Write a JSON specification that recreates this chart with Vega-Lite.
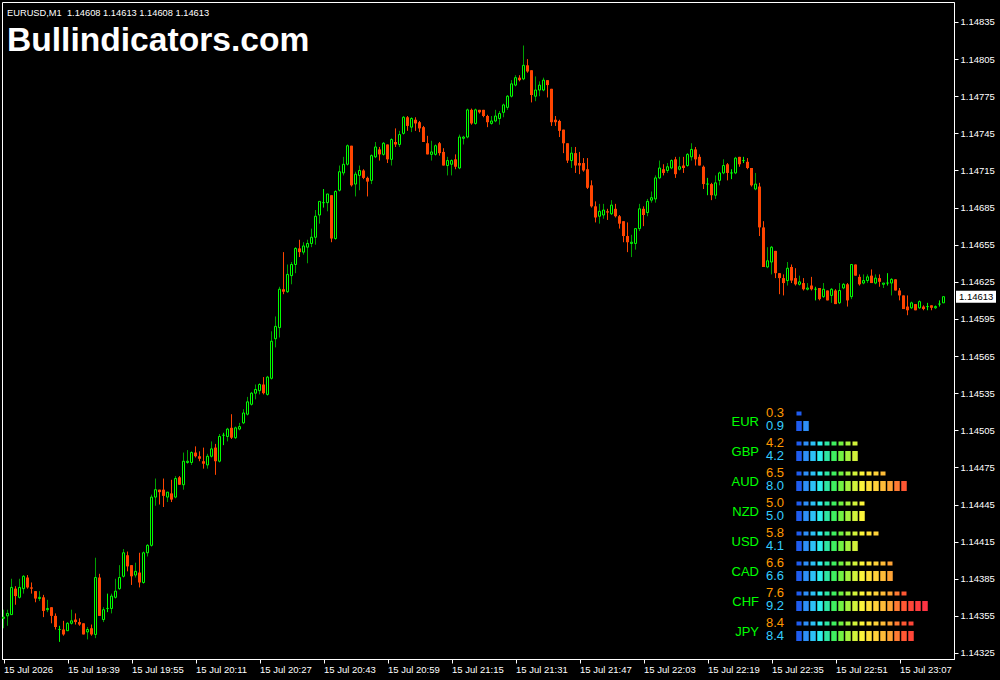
{
"$schema":"https://vega.github.io/schema/vega-lite/v6.json",
"width":952,"height":657,"autosize":"none",
"padding":{"left":2,"top":2,"right":46,"bottom":21},
"background":"#000000",
"config":{"view":{"stroke":"#ffffff","strokeWidth":1},"axis":{"grid":false,"domainColor":"#ffffff","tickColor":"#ffffff","labelColor":"#ffffff","labelFont":"Liberation Sans","labelFontSize":9.5,"tickSize":4,"labelOverlap":false,"labelFlush":false,"labelBound":false}},
"title":{"text":"EURUSD,M1\u00a0 1.14608 1.14613 1.14608 1.14613","subtitle":"Bullindicators.com","anchor":"start","frame":"group","orient":"top","offset":-56,"dx":5,"color":"#ffffff","font":"Liberation Sans","fontSize":9.3,"fontWeight":"normal","subtitleColor":"#ffffff","subtitleFont":"Liberation Sans","subtitleFontSize":33.6,"subtitleFontWeight":"bold","subtitlePadding":6},
"datasets":{
"candles":[
{"t":"2026-07-15T19:23","o":1.14353,"h":1.14360,"l":1.14345,"c":1.14354},
{"t":"2026-07-15T19:24","o":1.14355,"h":1.14360,"l":1.14347,"c":1.14357},
{"t":"2026-07-15T19:25","o":1.14356,"h":1.14385,"l":1.14356,"c":1.14378},
{"t":"2026-07-15T19:26","o":1.14377,"h":1.14379,"l":1.14364,"c":1.14371},
{"t":"2026-07-15T19:27","o":1.14370,"h":1.14385,"l":1.14369,"c":1.14378},
{"t":"2026-07-15T19:28","o":1.14377,"h":1.14388,"l":1.14373,"c":1.14387},
{"t":"2026-07-15T19:29","o":1.14386,"h":1.14388,"l":1.14377,"c":1.14378},
{"t":"2026-07-15T19:30","o":1.14378,"h":1.14382,"l":1.14373,"c":1.14377},
{"t":"2026-07-15T19:31","o":1.14375,"h":1.14375,"l":1.14366,"c":1.14369},
{"t":"2026-07-15T19:32","o":1.14369,"h":1.14375,"l":1.14367,"c":1.14370},
{"t":"2026-07-15T19:33","o":1.14370,"h":1.14372,"l":1.14354,"c":1.14359},
{"t":"2026-07-15T19:34","o":1.14360,"h":1.14368,"l":1.14358,"c":1.14361},
{"t":"2026-07-15T19:35","o":1.14362,"h":1.14362,"l":1.14349,"c":1.14355},
{"t":"2026-07-15T19:36","o":1.14355,"h":1.14357,"l":1.14344,"c":1.14346},
{"t":"2026-07-15T19:37","o":1.14344,"h":1.14347,"l":1.14334,"c":1.14344},
{"t":"2026-07-15T19:38","o":1.14344,"h":1.14351,"l":1.14339,"c":1.14340},
{"t":"2026-07-15T19:39","o":1.14343,"h":1.14350,"l":1.14343,"c":1.14349},
{"t":"2026-07-15T19:40","o":1.14349,"h":1.14360,"l":1.14348,"c":1.14351},
{"t":"2026-07-15T19:41","o":1.14352,"h":1.14357,"l":1.14348,"c":1.14350},
{"t":"2026-07-15T19:42","o":1.14350,"h":1.14353,"l":1.14347,"c":1.14348},
{"t":"2026-07-15T19:43","o":1.14349,"h":1.14349,"l":1.14340,"c":1.14340},
{"t":"2026-07-15T19:44","o":1.14342,"h":1.14346,"l":1.14336,"c":1.14344},
{"t":"2026-07-15T19:45","o":1.14345,"h":1.14348,"l":1.14339,"c":1.14340},
{"t":"2026-07-15T19:46","o":1.14340,"h":1.14402,"l":1.14337,"c":1.14386},
{"t":"2026-07-15T19:47","o":1.14386,"h":1.14389,"l":1.14355,"c":1.14355},
{"t":"2026-07-15T19:48","o":1.14352,"h":1.14362,"l":1.14350,"c":1.14360},
{"t":"2026-07-15T19:49","o":1.14361,"h":1.14373,"l":1.14358,"c":1.14361},
{"t":"2026-07-15T19:50","o":1.14361,"h":1.14373,"l":1.14357,"c":1.14371},
{"t":"2026-07-15T19:51","o":1.14370,"h":1.14385,"l":1.14369,"c":1.14375},
{"t":"2026-07-15T19:52","o":1.14377,"h":1.14396,"l":1.14376,"c":1.14386},
{"t":"2026-07-15T19:53","o":1.14387,"h":1.14409,"l":1.14386,"c":1.14406},
{"t":"2026-07-15T19:54","o":1.14404,"h":1.14407,"l":1.14391,"c":1.14395},
{"t":"2026-07-15T19:55","o":1.14396,"h":1.14396,"l":1.14380,"c":1.14387},
{"t":"2026-07-15T19:56","o":1.14388,"h":1.14398,"l":1.14386,"c":1.14391},
{"t":"2026-07-15T19:57","o":1.14390,"h":1.14406,"l":1.14378,"c":1.14382},
{"t":"2026-07-15T19:58","o":1.14382,"h":1.14407,"l":1.14381,"c":1.14406},
{"t":"2026-07-15T19:59","o":1.14406,"h":1.14413,"l":1.14403,"c":1.14412},
{"t":"2026-07-15T20:00","o":1.14412,"h":1.14453,"l":1.14411,"c":1.14451},
{"t":"2026-07-15T20:01","o":1.14451,"h":1.14466,"l":1.14444,"c":1.14457},
{"t":"2026-07-15T20:02","o":1.14457,"h":1.14457,"l":1.14445,"c":1.14455},
{"t":"2026-07-15T20:03","o":1.14457,"h":1.14466,"l":1.14443,"c":1.14452},
{"t":"2026-07-15T20:04","o":1.14451,"h":1.14455,"l":1.14447,"c":1.14455},
{"t":"2026-07-15T20:05","o":1.14454,"h":1.14465,"l":1.14447,"c":1.14449},
{"t":"2026-07-15T20:06","o":1.14451,"h":1.14468,"l":1.14450,"c":1.14466},
{"t":"2026-07-15T20:07","o":1.14467,"h":1.14468,"l":1.14461,"c":1.14461},
{"t":"2026-07-15T20:08","o":1.14461,"h":1.14487,"l":1.14457,"c":1.14480},
{"t":"2026-07-15T20:09","o":1.14479,"h":1.14489,"l":1.14478,"c":1.14480},
{"t":"2026-07-15T20:10","o":1.14479,"h":1.14488,"l":1.14477,"c":1.14487},
{"t":"2026-07-15T20:11","o":1.14487,"h":1.14492,"l":1.14483,"c":1.14484},
{"t":"2026-07-15T20:12","o":1.14484,"h":1.14488,"l":1.14480,"c":1.14482},
{"t":"2026-07-15T20:13","o":1.14480,"h":1.14491,"l":1.14474,"c":1.14478},
{"t":"2026-07-15T20:14","o":1.14477,"h":1.14486,"l":1.14474,"c":1.14484},
{"t":"2026-07-15T20:15","o":1.14484,"h":1.14496,"l":1.14483,"c":1.14490},
{"t":"2026-07-15T20:16","o":1.14491,"h":1.14494,"l":1.14469,"c":1.14480},
{"t":"2026-07-15T20:17","o":1.14480,"h":1.14502,"l":1.14479,"c":1.14500},
{"t":"2026-07-15T20:18","o":1.14501,"h":1.14503,"l":1.14493,"c":1.14501},
{"t":"2026-07-15T20:19","o":1.14500,"h":1.14507,"l":1.14496,"c":1.14506},
{"t":"2026-07-15T20:20","o":1.14507,"h":1.14518,"l":1.14498,"c":1.14499},
{"t":"2026-07-15T20:21","o":1.14499,"h":1.14508,"l":1.14498,"c":1.14507},
{"t":"2026-07-15T20:22","o":1.14506,"h":1.14511,"l":1.14505,"c":1.14508},
{"t":"2026-07-15T20:23","o":1.14511,"h":1.14522,"l":1.14510,"c":1.14519},
{"t":"2026-07-15T20:24","o":1.14518,"h":1.14532,"l":1.14517,"c":1.14528},
{"t":"2026-07-15T20:25","o":1.14526,"h":1.14536,"l":1.14525,"c":1.14535},
{"t":"2026-07-15T20:26","o":1.14535,"h":1.14542,"l":1.14530,"c":1.14538},
{"t":"2026-07-15T20:27","o":1.14537,"h":1.14543,"l":1.14534,"c":1.14542},
{"t":"2026-07-15T20:28","o":1.14542,"h":1.14548,"l":1.14534,"c":1.14535},
{"t":"2026-07-15T20:29","o":1.14534,"h":1.14549,"l":1.14533,"c":1.14548},
{"t":"2026-07-15T20:30","o":1.14547,"h":1.14585,"l":1.14546,"c":1.14577},
{"t":"2026-07-15T20:31","o":1.14579,"h":1.14597,"l":1.14572,"c":1.14589},
{"t":"2026-07-15T20:32","o":1.14588,"h":1.14621,"l":1.14580,"c":1.14619},
{"t":"2026-07-15T20:33","o":1.14619,"h":1.14649,"l":1.14615,"c":1.14617},
{"t":"2026-07-15T20:34","o":1.14617,"h":1.14639,"l":1.14616,"c":1.14631},
{"t":"2026-07-15T20:35","o":1.14630,"h":1.14641,"l":1.14623,"c":1.14639},
{"t":"2026-07-15T20:36","o":1.14639,"h":1.14653,"l":1.14632,"c":1.14652},
{"t":"2026-07-15T20:37","o":1.14652,"h":1.14659,"l":1.14645,"c":1.14649},
{"t":"2026-07-15T20:38","o":1.14649,"h":1.14657,"l":1.14647,"c":1.14654},
{"t":"2026-07-15T20:39","o":1.14653,"h":1.14659,"l":1.14640,"c":1.14656},
{"t":"2026-07-15T20:40","o":1.14656,"h":1.14668,"l":1.14653,"c":1.14661},
{"t":"2026-07-15T20:41","o":1.14661,"h":1.14683,"l":1.14655,"c":1.14678},
{"t":"2026-07-15T20:42","o":1.14679,"h":1.14690,"l":1.14672,"c":1.14690},
{"t":"2026-07-15T20:43","o":1.14689,"h":1.14700,"l":1.14685,"c":1.14689},
{"t":"2026-07-15T20:44","o":1.14689,"h":1.14696,"l":1.14682,"c":1.14696},
{"t":"2026-07-15T20:45","o":1.14695,"h":1.14695,"l":1.14657,"c":1.14660},
{"t":"2026-07-15T20:46","o":1.14660,"h":1.14699,"l":1.14659,"c":1.14698},
{"t":"2026-07-15T20:47","o":1.14699,"h":1.14719,"l":1.14698,"c":1.14714},
{"t":"2026-07-15T20:48","o":1.14713,"h":1.14726,"l":1.14711,"c":1.14720},
{"t":"2026-07-15T20:49","o":1.14720,"h":1.14736,"l":1.14719,"c":1.14735},
{"t":"2026-07-15T20:50","o":1.14735,"h":1.14735,"l":1.14702,"c":1.14703},
{"t":"2026-07-15T20:51","o":1.14704,"h":1.14714,"l":1.14694,"c":1.14712},
{"t":"2026-07-15T20:52","o":1.14711,"h":1.14719,"l":1.14699,"c":1.14715},
{"t":"2026-07-15T20:53","o":1.14715,"h":1.14716,"l":1.14708,"c":1.14709},
{"t":"2026-07-15T20:54","o":1.14709,"h":1.14710,"l":1.14694,"c":1.14706},
{"t":"2026-07-15T20:55","o":1.14707,"h":1.14728,"l":1.14704,"c":1.14727},
{"t":"2026-07-15T20:56","o":1.14726,"h":1.14738,"l":1.14725,"c":1.14734},
{"t":"2026-07-15T20:57","o":1.14732,"h":1.14734,"l":1.14723,"c":1.14728},
{"t":"2026-07-15T20:58","o":1.14728,"h":1.14738,"l":1.14727,"c":1.14737},
{"t":"2026-07-15T20:59","o":1.14736,"h":1.14736,"l":1.14721,"c":1.14724},
{"t":"2026-07-15T21:00","o":1.14724,"h":1.14741,"l":1.14719,"c":1.14740},
{"t":"2026-07-15T21:01","o":1.14738,"h":1.14749,"l":1.14734,"c":1.14736},
{"t":"2026-07-15T21:02","o":1.14736,"h":1.14747,"l":1.14734,"c":1.14744},
{"t":"2026-07-15T21:03","o":1.14745,"h":1.14759,"l":1.14744,"c":1.14758},
{"t":"2026-07-15T21:04","o":1.14758,"h":1.14759,"l":1.14747,"c":1.14751},
{"t":"2026-07-15T21:05","o":1.14750,"h":1.14758,"l":1.14746,"c":1.14757},
{"t":"2026-07-15T21:06","o":1.14756,"h":1.14758,"l":1.14747,"c":1.14753},
{"t":"2026-07-15T21:07","o":1.14754,"h":1.14755,"l":1.14746,"c":1.14749},
{"t":"2026-07-15T21:08","o":1.14750,"h":1.14751,"l":1.14738,"c":1.14738},
{"t":"2026-07-15T21:09","o":1.14737,"h":1.14743,"l":1.14728,"c":1.14728},
{"t":"2026-07-15T21:10","o":1.14728,"h":1.14739,"l":1.14723,"c":1.14730},
{"t":"2026-07-15T21:11","o":1.14728,"h":1.14736,"l":1.14727,"c":1.14735},
{"t":"2026-07-15T21:12","o":1.14737,"h":1.14738,"l":1.14727,"c":1.14729},
{"t":"2026-07-15T21:13","o":1.14730,"h":1.14733,"l":1.14719,"c":1.14719},
{"t":"2026-07-15T21:14","o":1.14719,"h":1.14726,"l":1.14711,"c":1.14723},
{"t":"2026-07-15T21:15","o":1.14720,"h":1.14724,"l":1.14711,"c":1.14723},
{"t":"2026-07-15T21:16","o":1.14724,"h":1.14728,"l":1.14716,"c":1.14718},
{"t":"2026-07-15T21:17","o":1.14717,"h":1.14744,"l":1.14716,"c":1.14742},
{"t":"2026-07-15T21:18","o":1.14741,"h":1.14743,"l":1.14736,"c":1.14742},
{"t":"2026-07-15T21:19","o":1.14742,"h":1.14765,"l":1.14741,"c":1.14764},
{"t":"2026-07-15T21:20","o":1.14764,"h":1.14765,"l":1.14752,"c":1.14753},
{"t":"2026-07-15T21:21","o":1.14753,"h":1.14765,"l":1.14752,"c":1.14764},
{"t":"2026-07-15T21:22","o":1.14764,"h":1.14764,"l":1.14761,"c":1.14762},
{"t":"2026-07-15T21:23","o":1.14764,"h":1.14764,"l":1.14758,"c":1.14759},
{"t":"2026-07-15T21:24","o":1.14759,"h":1.14760,"l":1.14750,"c":1.14754},
{"t":"2026-07-15T21:25","o":1.14753,"h":1.14759,"l":1.14752,"c":1.14755},
{"t":"2026-07-15T21:26","o":1.14755,"h":1.14764,"l":1.14754,"c":1.14759},
{"t":"2026-07-15T21:27","o":1.14757,"h":1.14763,"l":1.14752,"c":1.14761},
{"t":"2026-07-15T21:28","o":1.14762,"h":1.14769,"l":1.14758,"c":1.14768},
{"t":"2026-07-15T21:29","o":1.14766,"h":1.14776,"l":1.14764,"c":1.14775},
{"t":"2026-07-15T21:30","o":1.14775,"h":1.14788,"l":1.14774,"c":1.14785},
{"t":"2026-07-15T21:31","o":1.14784,"h":1.14792,"l":1.14783,"c":1.14790},
{"t":"2026-07-15T21:32","o":1.14790,"h":1.14792,"l":1.14787,"c":1.14788},
{"t":"2026-07-15T21:33","o":1.14789,"h":1.14816,"l":1.14788,"c":1.14800},
{"t":"2026-07-15T21:34","o":1.14800,"h":1.14805,"l":1.14794,"c":1.14795},
{"t":"2026-07-15T21:35","o":1.14796,"h":1.14796,"l":1.14770,"c":1.14776},
{"t":"2026-07-15T21:36","o":1.14775,"h":1.14791,"l":1.14771,"c":1.14780},
{"t":"2026-07-15T21:37","o":1.14780,"h":1.14787,"l":1.14775,"c":1.14784},
{"t":"2026-07-15T21:38","o":1.14780,"h":1.14790,"l":1.14779,"c":1.14788},
{"t":"2026-07-15T21:39","o":1.14788,"h":1.14788,"l":1.14774,"c":1.14784},
{"t":"2026-07-15T21:40","o":1.14781,"h":1.14781,"l":1.14751,"c":1.14754},
{"t":"2026-07-15T21:41","o":1.14756,"h":1.14759,"l":1.14751,"c":1.14754},
{"t":"2026-07-15T21:42","o":1.14755,"h":1.14756,"l":1.14742,"c":1.14747},
{"t":"2026-07-15T21:43","o":1.14748,"h":1.14748,"l":1.14729,"c":1.14737},
{"t":"2026-07-15T21:44","o":1.14737,"h":1.14737,"l":1.14721,"c":1.14723},
{"t":"2026-07-15T21:45","o":1.14723,"h":1.14734,"l":1.14717,"c":1.14729},
{"t":"2026-07-15T21:46","o":1.14729,"h":1.14734,"l":1.14713,"c":1.14719},
{"t":"2026-07-15T21:47","o":1.14721,"h":1.14730,"l":1.14712,"c":1.14719},
{"t":"2026-07-15T21:48","o":1.14721,"h":1.14725,"l":1.14714,"c":1.14715},
{"t":"2026-07-15T21:49","o":1.14716,"h":1.14725,"l":1.14700,"c":1.14701},
{"t":"2026-07-15T21:50","o":1.14703,"h":1.14707,"l":1.14685,"c":1.14686},
{"t":"2026-07-15T21:51","o":1.14686,"h":1.14690,"l":1.14673,"c":1.14677},
{"t":"2026-07-15T21:52","o":1.14678,"h":1.14688,"l":1.14672,"c":1.14682},
{"t":"2026-07-15T21:53","o":1.14679,"h":1.14688,"l":1.14676,"c":1.14683},
{"t":"2026-07-15T21:54","o":1.14682,"h":1.14684,"l":1.14675,"c":1.14681},
{"t":"2026-07-15T21:55","o":1.14680,"h":1.14691,"l":1.14679,"c":1.14687},
{"t":"2026-07-15T21:56","o":1.14684,"h":1.14688,"l":1.14677,"c":1.14678},
{"t":"2026-07-15T21:57","o":1.14678,"h":1.14679,"l":1.14668,"c":1.14672},
{"t":"2026-07-15T21:58","o":1.14674,"h":1.14674,"l":1.14657,"c":1.14662},
{"t":"2026-07-15T21:59","o":1.14662,"h":1.14673,"l":1.14649,"c":1.14657},
{"t":"2026-07-15T22:00","o":1.14656,"h":1.14663,"l":1.14645,"c":1.14657},
{"t":"2026-07-15T22:01","o":1.14656,"h":1.14668,"l":1.14651,"c":1.14668},
{"t":"2026-07-15T22:02","o":1.14668,"h":1.14688,"l":1.14666,"c":1.14684},
{"t":"2026-07-15T22:03","o":1.14684,"h":1.14686,"l":1.14670,"c":1.14679},
{"t":"2026-07-15T22:04","o":1.14681,"h":1.14692,"l":1.14678,"c":1.14690},
{"t":"2026-07-15T22:05","o":1.14691,"h":1.14698,"l":1.14689,"c":1.14693},
{"t":"2026-07-15T22:06","o":1.14692,"h":1.14711,"l":1.14689,"c":1.14709},
{"t":"2026-07-15T22:07","o":1.14709,"h":1.14723,"l":1.14708,"c":1.14717},
{"t":"2026-07-15T22:08","o":1.14716,"h":1.14720,"l":1.14711,"c":1.14713},
{"t":"2026-07-15T22:09","o":1.14715,"h":1.14721,"l":1.14713,"c":1.14718},
{"t":"2026-07-15T22:10","o":1.14717,"h":1.14724,"l":1.14716,"c":1.14723},
{"t":"2026-07-15T22:11","o":1.14724,"h":1.14726,"l":1.14709,"c":1.14712},
{"t":"2026-07-15T22:12","o":1.14716,"h":1.14726,"l":1.14715,"c":1.14718},
{"t":"2026-07-15T22:13","o":1.14719,"h":1.14726,"l":1.14713,"c":1.14717},
{"t":"2026-07-15T22:14","o":1.14719,"h":1.14729,"l":1.14718,"c":1.14728},
{"t":"2026-07-15T22:15","o":1.14726,"h":1.14737,"l":1.14723,"c":1.14732},
{"t":"2026-07-15T22:16","o":1.14732,"h":1.14734,"l":1.14719,"c":1.14724},
{"t":"2026-07-15T22:17","o":1.14726,"h":1.14728,"l":1.14719,"c":1.14719},
{"t":"2026-07-15T22:18","o":1.14718,"h":1.14719,"l":1.14700,"c":1.14704},
{"t":"2026-07-15T22:19","o":1.14704,"h":1.14709,"l":1.14695,"c":1.14704},
{"t":"2026-07-15T22:20","o":1.14704,"h":1.14705,"l":1.14691,"c":1.14695},
{"t":"2026-07-15T22:21","o":1.14695,"h":1.14711,"l":1.14692,"c":1.14705},
{"t":"2026-07-15T22:22","o":1.14707,"h":1.14714,"l":1.14703,"c":1.14713},
{"t":"2026-07-15T22:23","o":1.14713,"h":1.14724,"l":1.14712,"c":1.14719},
{"t":"2026-07-15T22:24","o":1.14720,"h":1.14721,"l":1.14707,"c":1.14713},
{"t":"2026-07-15T22:25","o":1.14713,"h":1.14716,"l":1.14708,"c":1.14713},
{"t":"2026-07-15T22:26","o":1.14713,"h":1.14726,"l":1.14712,"c":1.14725},
{"t":"2026-07-15T22:27","o":1.14726,"h":1.14726,"l":1.14718,"c":1.14720},
{"t":"2026-07-15T22:28","o":1.14723,"h":1.14726,"l":1.14721,"c":1.14723},
{"t":"2026-07-15T22:29","o":1.14722,"h":1.14725,"l":1.14716,"c":1.14717},
{"t":"2026-07-15T22:30","o":1.14717,"h":1.14717,"l":1.14702,"c":1.14703},
{"t":"2026-07-15T22:31","o":1.14700,"h":1.14713,"l":1.14699,"c":1.14704},
{"t":"2026-07-15T22:32","o":1.14702,"h":1.14705,"l":1.14662,"c":1.14669},
{"t":"2026-07-15T22:33","o":1.14669,"h":1.14674,"l":1.14637,"c":1.14637},
{"t":"2026-07-15T22:34","o":1.14637,"h":1.14653,"l":1.14636,"c":1.14642},
{"t":"2026-07-15T22:35","o":1.14641,"h":1.14654,"l":1.14631,"c":1.14653},
{"t":"2026-07-15T22:36","o":1.14650,"h":1.14650,"l":1.14628,"c":1.14632},
{"t":"2026-07-15T22:37","o":1.14632,"h":1.14632,"l":1.14615,"c":1.14628},
{"t":"2026-07-15T22:38","o":1.14628,"h":1.14631,"l":1.14614,"c":1.14624},
{"t":"2026-07-15T22:39","o":1.14626,"h":1.14641,"l":1.14622,"c":1.14636},
{"t":"2026-07-15T22:40","o":1.14637,"h":1.14639,"l":1.14624,"c":1.14626},
{"t":"2026-07-15T22:41","o":1.14628,"h":1.14636,"l":1.14622,"c":1.14623},
{"t":"2026-07-15T22:42","o":1.14623,"h":1.14630,"l":1.14622,"c":1.14625},
{"t":"2026-07-15T22:43","o":1.14624,"h":1.14628,"l":1.14618,"c":1.14619},
{"t":"2026-07-15T22:44","o":1.14619,"h":1.14624,"l":1.14618,"c":1.14620},
{"t":"2026-07-15T22:45","o":1.14622,"h":1.14629,"l":1.14618,"c":1.14619},
{"t":"2026-07-15T22:46","o":1.14619,"h":1.14621,"l":1.14610,"c":1.14619},
{"t":"2026-07-15T22:47","o":1.14620,"h":1.14620,"l":1.14610,"c":1.14611},
{"t":"2026-07-15T22:48","o":1.14613,"h":1.14624,"l":1.14612,"c":1.14619},
{"t":"2026-07-15T22:49","o":1.14618,"h":1.14618,"l":1.14610,"c":1.14610},
{"t":"2026-07-15T22:50","o":1.14614,"h":1.14620,"l":1.14608,"c":1.14619},
{"t":"2026-07-15T22:51","o":1.14618,"h":1.14619,"l":1.14607,"c":1.14607},
{"t":"2026-07-15T22:52","o":1.14608,"h":1.14624,"l":1.14607,"c":1.14618},
{"t":"2026-07-15T22:53","o":1.14620,"h":1.14624,"l":1.14619,"c":1.14623},
{"t":"2026-07-15T22:54","o":1.14623,"h":1.14624,"l":1.14605,"c":1.14610},
{"t":"2026-07-15T22:55","o":1.14613,"h":1.14639,"l":1.14611,"c":1.14639},
{"t":"2026-07-15T22:56","o":1.14639,"h":1.14639,"l":1.14630,"c":1.14630},
{"t":"2026-07-15T22:57","o":1.14629,"h":1.14631,"l":1.14622,"c":1.14623},
{"t":"2026-07-15T22:58","o":1.14624,"h":1.14631,"l":1.14623,"c":1.14626},
{"t":"2026-07-15T22:59","o":1.14626,"h":1.14631,"l":1.14624,"c":1.14629},
{"t":"2026-07-15T23:00","o":1.14630,"h":1.14635,"l":1.14624,"c":1.14624},
{"t":"2026-07-15T23:01","o":1.14624,"h":1.14631,"l":1.14623,"c":1.14628},
{"t":"2026-07-15T23:02","o":1.14628,"h":1.14631,"l":1.14621,"c":1.14625},
{"t":"2026-07-15T23:03","o":1.14623,"h":1.14624,"l":1.14620,"c":1.14624},
{"t":"2026-07-15T23:04","o":1.14624,"h":1.14632,"l":1.14622,"c":1.14624},
{"t":"2026-07-15T23:05","o":1.14624,"h":1.14628,"l":1.14614,"c":1.14627},
{"t":"2026-07-15T23:06","o":1.14627,"h":1.14627,"l":1.14618,"c":1.14618},
{"t":"2026-07-15T23:07","o":1.14618,"h":1.14620,"l":1.14610,"c":1.14614},
{"t":"2026-07-15T23:08","o":1.14614,"h":1.14614,"l":1.14603,"c":1.14603},
{"t":"2026-07-15T23:09","o":1.14605,"h":1.14614,"l":1.14598,"c":1.14602},
{"t":"2026-07-15T23:10","o":1.14604,"h":1.14609,"l":1.14603,"c":1.14608},
{"t":"2026-07-15T23:11","o":1.14607,"h":1.14607,"l":1.14602,"c":1.14602},
{"t":"2026-07-15T23:12","o":1.14604,"h":1.14610,"l":1.14603,"c":1.14609},
{"t":"2026-07-15T23:13","o":1.14605,"h":1.14606,"l":1.14602,"c":1.14603},
{"t":"2026-07-15T23:14","o":1.14605,"h":1.14608,"l":1.14602,"c":1.14605},
{"t":"2026-07-15T23:15","o":1.14606,"h":1.14606,"l":1.14602,"c":1.14604},
{"t":"2026-07-15T23:16","o":1.14604,"h":1.14606,"l":1.14603,"c":1.14605},
{"t":"2026-07-15T23:17","o":1.14607,"h":1.14610,"l":1.14605,"c":1.14607},
{"t":"2026-07-15T23:18","o":1.14608,"h":1.14613,"l":1.14608,"c":1.14613}
],
"bid":[{"c":1.14613}],
"meter":[
{"cur":"EUR","a":0.3,"b":0.9},
{"cur":"GBP","a":4.2,"b":4.2},
{"cur":"AUD","a":6.5,"b":8.0},
{"cur":"NZD","a":5.0,"b":5.0},
{"cur":"USD","a":5.8,"b":4.1},
{"cur":"CAD","a":6.6,"b":6.6},
{"cur":"CHF","a":7.6,"b":9.2},
{"cur":"JPY","a":8.4,"b":8.4}
],
"segs":[
{"cur":"EUR","r":1,"k":1},
{"cur":"EUR","r":2,"k":1},{"cur":"EUR","r":2,"k":2},
{"cur":"GBP","r":1,"k":1},{"cur":"GBP","r":1,"k":2},{"cur":"GBP","r":1,"k":3},{"cur":"GBP","r":1,"k":4},{"cur":"GBP","r":1,"k":5},{"cur":"GBP","r":1,"k":6},{"cur":"GBP","r":1,"k":7},{"cur":"GBP","r":1,"k":8},{"cur":"GBP","r":1,"k":9},
{"cur":"GBP","r":2,"k":1},{"cur":"GBP","r":2,"k":2},{"cur":"GBP","r":2,"k":3},{"cur":"GBP","r":2,"k":4},{"cur":"GBP","r":2,"k":5},{"cur":"GBP","r":2,"k":6},{"cur":"GBP","r":2,"k":7},{"cur":"GBP","r":2,"k":8},{"cur":"GBP","r":2,"k":9},
{"cur":"AUD","r":1,"k":1},{"cur":"AUD","r":1,"k":2},{"cur":"AUD","r":1,"k":3},{"cur":"AUD","r":1,"k":4},{"cur":"AUD","r":1,"k":5},{"cur":"AUD","r":1,"k":6},{"cur":"AUD","r":1,"k":7},{"cur":"AUD","r":1,"k":8},{"cur":"AUD","r":1,"k":9},{"cur":"AUD","r":1,"k":10},{"cur":"AUD","r":1,"k":11},{"cur":"AUD","r":1,"k":12},{"cur":"AUD","r":1,"k":13},
{"cur":"AUD","r":2,"k":1},{"cur":"AUD","r":2,"k":2},{"cur":"AUD","r":2,"k":3},{"cur":"AUD","r":2,"k":4},{"cur":"AUD","r":2,"k":5},{"cur":"AUD","r":2,"k":6},{"cur":"AUD","r":2,"k":7},{"cur":"AUD","r":2,"k":8},{"cur":"AUD","r":2,"k":9},{"cur":"AUD","r":2,"k":10},{"cur":"AUD","r":2,"k":11},{"cur":"AUD","r":2,"k":12},{"cur":"AUD","r":2,"k":13},{"cur":"AUD","r":2,"k":14},{"cur":"AUD","r":2,"k":15},{"cur":"AUD","r":2,"k":16},
{"cur":"NZD","r":1,"k":1},{"cur":"NZD","r":1,"k":2},{"cur":"NZD","r":1,"k":3},{"cur":"NZD","r":1,"k":4},{"cur":"NZD","r":1,"k":5},{"cur":"NZD","r":1,"k":6},{"cur":"NZD","r":1,"k":7},{"cur":"NZD","r":1,"k":8},{"cur":"NZD","r":1,"k":9},{"cur":"NZD","r":1,"k":10},
{"cur":"NZD","r":2,"k":1},{"cur":"NZD","r":2,"k":2},{"cur":"NZD","r":2,"k":3},{"cur":"NZD","r":2,"k":4},{"cur":"NZD","r":2,"k":5},{"cur":"NZD","r":2,"k":6},{"cur":"NZD","r":2,"k":7},{"cur":"NZD","r":2,"k":8},{"cur":"NZD","r":2,"k":9},{"cur":"NZD","r":2,"k":10},
{"cur":"USD","r":1,"k":1},{"cur":"USD","r":1,"k":2},{"cur":"USD","r":1,"k":3},{"cur":"USD","r":1,"k":4},{"cur":"USD","r":1,"k":5},{"cur":"USD","r":1,"k":6},{"cur":"USD","r":1,"k":7},{"cur":"USD","r":1,"k":8},{"cur":"USD","r":1,"k":9},{"cur":"USD","r":1,"k":10},{"cur":"USD","r":1,"k":11},{"cur":"USD","r":1,"k":12},
{"cur":"USD","r":2,"k":1},{"cur":"USD","r":2,"k":2},{"cur":"USD","r":2,"k":3},{"cur":"USD","r":2,"k":4},{"cur":"USD","r":2,"k":5},{"cur":"USD","r":2,"k":6},{"cur":"USD","r":2,"k":7},{"cur":"USD","r":2,"k":8},{"cur":"USD","r":2,"k":9},
{"cur":"CAD","r":1,"k":1},{"cur":"CAD","r":1,"k":2},{"cur":"CAD","r":1,"k":3},{"cur":"CAD","r":1,"k":4},{"cur":"CAD","r":1,"k":5},{"cur":"CAD","r":1,"k":6},{"cur":"CAD","r":1,"k":7},{"cur":"CAD","r":1,"k":8},{"cur":"CAD","r":1,"k":9},{"cur":"CAD","r":1,"k":10},{"cur":"CAD","r":1,"k":11},{"cur":"CAD","r":1,"k":12},{"cur":"CAD","r":1,"k":13},{"cur":"CAD","r":1,"k":14},
{"cur":"CAD","r":2,"k":1},{"cur":"CAD","r":2,"k":2},{"cur":"CAD","r":2,"k":3},{"cur":"CAD","r":2,"k":4},{"cur":"CAD","r":2,"k":5},{"cur":"CAD","r":2,"k":6},{"cur":"CAD","r":2,"k":7},{"cur":"CAD","r":2,"k":8},{"cur":"CAD","r":2,"k":9},{"cur":"CAD","r":2,"k":10},{"cur":"CAD","r":2,"k":11},{"cur":"CAD","r":2,"k":12},{"cur":"CAD","r":2,"k":13},{"cur":"CAD","r":2,"k":14},
{"cur":"CHF","r":1,"k":1},{"cur":"CHF","r":1,"k":2},{"cur":"CHF","r":1,"k":3},{"cur":"CHF","r":1,"k":4},{"cur":"CHF","r":1,"k":5},{"cur":"CHF","r":1,"k":6},{"cur":"CHF","r":1,"k":7},{"cur":"CHF","r":1,"k":8},{"cur":"CHF","r":1,"k":9},{"cur":"CHF","r":1,"k":10},{"cur":"CHF","r":1,"k":11},{"cur":"CHF","r":1,"k":12},{"cur":"CHF","r":1,"k":13},{"cur":"CHF","r":1,"k":14},{"cur":"CHF","r":1,"k":15},{"cur":"CHF","r":1,"k":16},
{"cur":"CHF","r":2,"k":1},{"cur":"CHF","r":2,"k":2},{"cur":"CHF","r":2,"k":3},{"cur":"CHF","r":2,"k":4},{"cur":"CHF","r":2,"k":5},{"cur":"CHF","r":2,"k":6},{"cur":"CHF","r":2,"k":7},{"cur":"CHF","r":2,"k":8},{"cur":"CHF","r":2,"k":9},{"cur":"CHF","r":2,"k":10},{"cur":"CHF","r":2,"k":11},{"cur":"CHF","r":2,"k":12},{"cur":"CHF","r":2,"k":13},{"cur":"CHF","r":2,"k":14},{"cur":"CHF","r":2,"k":15},{"cur":"CHF","r":2,"k":16},{"cur":"CHF","r":2,"k":17},{"cur":"CHF","r":2,"k":18},{"cur":"CHF","r":2,"k":19},
{"cur":"JPY","r":1,"k":1},{"cur":"JPY","r":1,"k":2},{"cur":"JPY","r":1,"k":3},{"cur":"JPY","r":1,"k":4},{"cur":"JPY","r":1,"k":5},{"cur":"JPY","r":1,"k":6},{"cur":"JPY","r":1,"k":7},{"cur":"JPY","r":1,"k":8},{"cur":"JPY","r":1,"k":9},{"cur":"JPY","r":1,"k":10},{"cur":"JPY","r":1,"k":11},{"cur":"JPY","r":1,"k":12},{"cur":"JPY","r":1,"k":13},{"cur":"JPY","r":1,"k":14},{"cur":"JPY","r":1,"k":15},{"cur":"JPY","r":1,"k":16},{"cur":"JPY","r":1,"k":17},
{"cur":"JPY","r":2,"k":1},{"cur":"JPY","r":2,"k":2},{"cur":"JPY","r":2,"k":3},{"cur":"JPY","r":2,"k":4},{"cur":"JPY","r":2,"k":5},{"cur":"JPY","r":2,"k":6},{"cur":"JPY","r":2,"k":7},{"cur":"JPY","r":2,"k":8},{"cur":"JPY","r":2,"k":9},{"cur":"JPY","r":2,"k":10},{"cur":"JPY","r":2,"k":11},{"cur":"JPY","r":2,"k":12},{"cur":"JPY","r":2,"k":13},{"cur":"JPY","r":2,"k":14},{"cur":"JPY","r":2,"k":15},{"cur":"JPY","r":2,"k":16},{"cur":"JPY","r":2,"k":17}
]
},
"layer":[
{
"layer":[
{"data":{"name":"candles"},"mark":{"type":"rule","strokeWidth":1},
 "encoding":{
  "x":{"field":"t","type":"temporal","title":null,
   "scale":{"domain":[{"year":2026,"month":7,"date":15,"hours":19,"minutes":22,"seconds":37,"milliseconds":500},{"year":2026,"month":7,"date":15,"hours":23,"minutes":20,"seconds":37,"milliseconds":500}],"padding":0},
   "axis":{"values":[
    {"year":2026,"month":7,"date":15,"hours":19,"minutes":23},{"year":2026,"month":7,"date":15,"hours":19,"minutes":39},{"year":2026,"month":7,"date":15,"hours":19,"minutes":55},
    {"year":2026,"month":7,"date":15,"hours":20,"minutes":11},{"year":2026,"month":7,"date":15,"hours":20,"minutes":27},{"year":2026,"month":7,"date":15,"hours":20,"minutes":43},{"year":2026,"month":7,"date":15,"hours":20,"minutes":59},
    {"year":2026,"month":7,"date":15,"hours":21,"minutes":15},{"year":2026,"month":7,"date":15,"hours":21,"minutes":31},{"year":2026,"month":7,"date":15,"hours":21,"minutes":47},
    {"year":2026,"month":7,"date":15,"hours":22,"minutes":3},{"year":2026,"month":7,"date":15,"hours":22,"minutes":19},{"year":2026,"month":7,"date":15,"hours":22,"minutes":35},{"year":2026,"month":7,"date":15,"hours":22,"minutes":51},
    {"year":2026,"month":7,"date":15,"hours":23,"minutes":7}],
    "tickCount":60,
    "labelExpr":"(hours(datum.value) == 19 && minutes(datum.value) == 23) ? '15 Jul 2026' : timeFormat(datum.value, '%d %b %H:%M')",
    "labelAlign":"left","labelPadding":1,"labelFlush":false,"labelOverlap":false,"labelBound":false,"title":null}},
  "y":{"field":"l","type":"quantitative","title":null,
   "scale":{"domain":[1.1432015,1.1485116],"nice":false,"zero":false,"padding":0},
   "axis":{"orient":"right","values":[1.14325,1.14355,1.14385,1.14415,1.14445,1.14475,1.14505,1.14535,1.14565,1.14595,1.14625,1.14655,1.14685,1.14715,1.14745,1.14775,1.14805,1.14835],
    "tickCount":60,"format":".5f","labelPadding":2,"labelAlign":"left","labelBaseline":"middle","labelBound":false,"labelOverlap":false,"labelFlush":false,"title":null}},
  "y2":{"field":"h"},
  "color":{"condition":[{"test":"datum.c == datum.o","value":"#00ff00"},{"test":"datum.c > datum.o","value":"#00a000"}],"value":"#ff4500"}
 }},
{"data":{"name":"candles"},"transform":[{"filter":"datum.c < datum.o"}],"mark":{"type":"bar","size":3,"color":"#ff4500"},
 "encoding":{
  "x":{"field":"t","type":"temporal","title":null,"scale":{"padding":0}},
  "y":{"field":"o","type":"quantitative","title":null,"scale":{"domain":[1.1432015,1.1485116],"nice":false,"zero":false,"padding":0}},
  "y2":{"field":"c"}}},
{"data":{"name":"candles"},"transform":[{"filter":"datum.c >= datum.o"}],"mark":{"type":"bar","size":2,"fill":"#000000","stroke":"#00ff00","strokeWidth":1},
 "encoding":{
  "x":{"field":"t","type":"temporal","title":null,"scale":{"padding":0}},
  "y":{"field":"o","type":"quantitative","title":null,"scale":{"domain":[1.1432015,1.1485116],"nice":false,"zero":false,"padding":0}},
  "y2":{"field":"c"}}},
{"data":{"name":"bid"},"mark":{"type":"point","shape":"M-1,-0.3H1V0.3H-1Z","size":1600,"filled":true,"color":"#ffffff","opacity":1,"x":"width","xOffset":22,"clip":false},
 "encoding":{"y":{"field":"c","type":"quantitative","title":null,"scale":{"domain":[1.1432015,1.1485116],"nice":false,"zero":false,"padding":0}}}},
{"data":{"name":"bid"},"mark":{"type":"text","x":"width","xOffset":5,"align":"left","baseline":"middle","color":"#000000","font":"Liberation Sans","fontSize":9.5,"clip":false},
 "encoding":{"y":{"field":"c","type":"quantitative","title":null,"scale":{"domain":[1.1432015,1.1485116],"nice":false,"zero":false,"padding":0}},"text":{"field":"c","type":"quantitative","format":".5f"}}}
]
},
{
"layer":[
{"data":{"name":"segs"},"transform":[{"filter":"datum.r == 1"}],"mark":{"type":"tick","thickness":5,"size":4,"yOffset":-8.5,"opacity":1},
 "encoding":{
  "x":{"field":"k","type":"quantitative","title":null,"scale":{"domain":[-112.857,23.143],"nice":false,"zero":false,"padding":0},"axis":null},
  "y":{"field":"cur","type":"nominal","title":null,"scale":{"domain":["EUR","GBP","AUD","NZD","USD","CAD","CHF","JPY"],"range":[405,645],"paddingInner":0,"paddingOuter":0},"axis":null},
  "color":{"field":"k","type":"ordinal","scale":{"domain":[1,2,3,4,5,6,7,8,9,10,11,12,13,14,15,16,17,18,19],"range":["#1f5cf0","#2e8ff7","#2cc1f6","#2ff0ee","#2ee6a4","#3fef5f","#72f241","#a6f13e","#d2f23b","#fbf53a","#ffe23a","#ffd23a","#ffbc38","#ffa436","#ff7b33","#ff5733","#ff4638","#ff3c3e","#ff3444"]},"legend":null}}},
{"data":{"name":"segs"},"transform":[{"filter":"datum.r == 2"}],"mark":{"type":"tick","thickness":5.5,"size":10,"yOffset":4,"opacity":1},
 "encoding":{
  "x":{"field":"k","type":"quantitative","title":null,"scale":{"domain":[-112.857,23.143],"nice":false,"zero":false,"padding":0},"axis":null},
  "y":{"field":"cur","type":"nominal","title":null,"scale":{"domain":["EUR","GBP","AUD","NZD","USD","CAD","CHF","JPY"],"range":[405,645],"paddingInner":0,"paddingOuter":0},"axis":null},
  "color":{"field":"k","type":"ordinal","scale":{"domain":[1,2,3,4,5,6,7,8,9,10,11,12,13,14,15,16,17,18,19],"range":["#1f5cf0","#2e8ff7","#2cc1f6","#2ff0ee","#2ee6a4","#3fef5f","#72f241","#a6f13e","#d2f23b","#fbf53a","#ffe23a","#ffd23a","#ffbc38","#ffa436","#ff7b33","#ff5733","#ff4638","#ff3c3e","#ff3444"]},"legend":null}}},
{"data":{"name":"meter"},"mark":{"type":"text","align":"right","baseline":"middle","font":"Liberation Sans","fontSize":13,"color":"#00ff00"},
 "encoding":{
  "x":{"datum":-4.714,"type":"quantitative","title":null,"scale":{"domain":[-112.857,23.143],"nice":false,"zero":false,"padding":0},"axis":null},
  "y":{"field":"cur","type":"nominal","title":null,"scale":{"domain":["EUR","GBP","AUD","NZD","USD","CAD","CHF","JPY"],"range":[405,645],"paddingInner":0,"paddingOuter":0},"axis":null},
  "text":{"field":"cur"}}},
{"data":{"name":"meter"},"mark":{"type":"text","align":"left","baseline":"middle","font":"Liberation Sans","fontSize":13,"color":"#ff9900","yOffset":-9},
 "encoding":{
  "x":{"datum":-3.714,"type":"quantitative","title":null,"scale":{"domain":[-112.857,23.143],"nice":false,"zero":false,"padding":0},"axis":null},
  "y":{"field":"cur","type":"nominal","title":null,"scale":{"domain":["EUR","GBP","AUD","NZD","USD","CAD","CHF","JPY"],"range":[405,645],"paddingInner":0,"paddingOuter":0},"axis":null},
  "text":{"field":"a","type":"quantitative","format":".1f"}}},
{"data":{"name":"meter"},"mark":{"type":"text","align":"left","baseline":"middle","font":"Liberation Sans","fontSize":13,"color":"#33ccff","yOffset":4},
 "encoding":{
  "x":{"datum":-3.714,"type":"quantitative","title":null,"scale":{"domain":[-112.857,23.143],"nice":false,"zero":false,"padding":0},"axis":null},
  "y":{"field":"cur","type":"nominal","title":null,"scale":{"domain":["EUR","GBP","AUD","NZD","USD","CAD","CHF","JPY"],"range":[405,645],"paddingInner":0,"paddingOuter":0},"axis":null},
  "text":{"field":"b","type":"quantitative","format":".1f"}}}
]
}
],
"resolve":{"scale":{"x":"independent","y":"independent","color":"independent"}}
}
